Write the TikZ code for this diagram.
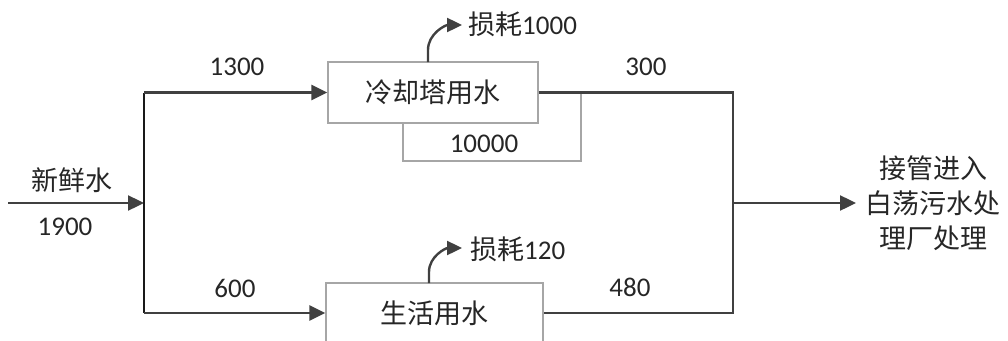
\documentclass[tikz,border=0pt]{standalone}
\usepackage{fontspec}
\setmainfont{Carlito}
\newfontfamily\cjk{Noto Sans CJK SC}
\usetikzlibrary{arrows.meta}
\definecolor{ln}{HTML}{404040}
\definecolor{bx}{HTML}{A6A6A6}
\begin{document}
\begin{tikzpicture}[x=1pt,y=-1pt,
  every node/.style={font=\fontsize{27}{32}\selectfont, text=black!85, inner sep=0pt},
  box/.style={draw=bx, line width=1.3pt, fill=white},
  flow/.style={draw=ln, line width=2.4pt},
  arr/.style={flow, -{Triangle[length=16pt,width=15pt]}},
  lossarr/.style={flow, -{Triangle[length=15pt,width=14pt]}},
  loop/.style={draw=bx, line width=1.3pt}]
\useasboundingbox (0,0) rectangle (1008,340);
\clip (0,0) rectangle (1008,340);
% recycle loop (behind box)
\coordinate (r1) at (581,92.5);
\coordinate (r2) at (581,161);
\coordinate (r3) at (403,161);
\coordinate (r4) at (403,123);
\draw[loop] (r1) -- (r2) -- (r3) -- (r4);
\node (rl) at (484,144) {10000};
% boxes
\node[box, minimum width=210pt, minimum height=61pt] (ct) at (433,92.5) {\cjk 冷却塔用水};
\node[box, minimum width=217pt, minimum height=62pt] (lv) at (434.5,314) {};
\node (lvt) at (434.5,313) {\cjk 生活用水};
% input
\coordinate (in) at (8,203);
\coordinate (j1) at (144,203);
\coordinate (jt) at (144,92.5);
\coordinate (jb) at (144,313);
\draw[arr] (in) -- (j1);
\draw[draw=black!90, line width=2.8pt] (jt) -- (jb);
\node (fw) at (72,180) {\cjk 新鲜水};
\node (fwn) at (65,227) {1900};
% branches
\draw[arr] (jt) -- (ct.west);
\draw[arr] (jb) -- (jb -| lv.west);
\node (l1) at (237,67) {1300};
\node (l2) at (235,288) {600};
% outputs
\coordinate (jr) at (733,92.5);
\coordinate (jrb) at (733,313);
\coordinate (jo) at (733,203);
\draw[flow] (ct.east) -- (jr) -- (jrb) -- (jrb -| lv.east);
\node (l3) at (646,67) {300};
\node (l4) at (630,287) {480};
\node[align=center, font=\fontsize{27}{35}\selectfont\cjk] (out) at (933,203) {接管进入\\白荡污水处\\理厂处理};
\coordinate (oe) at (856,203);
\draw[arr] (jo) -- (oe);
% losses
\coordinate (c1) at (428,62);
\coordinate (t1) at (462,25);
\draw[lossarr] (c1) -- (428,50) to[out=90,in=180] (t1);
\node[anchor=west] (loss1) at (468,24) {{\cjk 损耗}1000};
\coordinate (c2) at (429,283);
\coordinate (t2) at (462,248);
\draw[lossarr] (c2) -- (429,272) to[out=90,in=180] (t2);
\node[anchor=west] (loss2) at (470,249) {{\cjk 损耗}120};
\end{tikzpicture}
\end{document}
